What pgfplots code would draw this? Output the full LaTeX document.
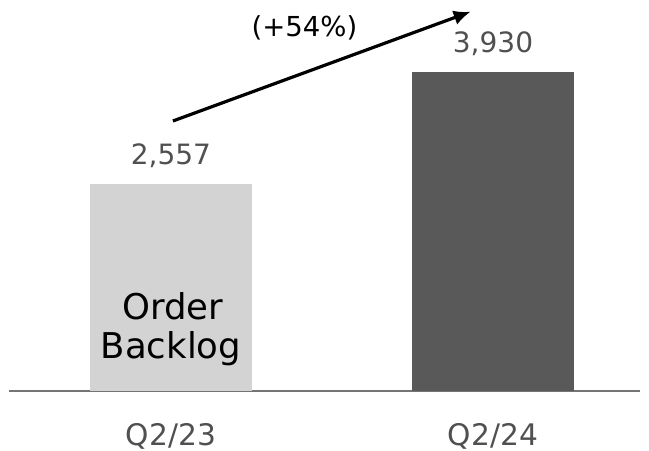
\documentclass[border=0pt]{standalone}
\usepackage{fontspec}
\setmainfont{DejaVu Sans}
\usepackage{pgfplots}
\pgfplotsset{compat=1.18}
\usetikzlibrary{arrows.meta}
\definecolor{lightbar}{HTML}{D3D3D3}
\definecolor{darkbar}{HTML}{595959}
\definecolor{axisgray}{HTML}{747474}
\definecolor{labelgray}{HTML}{505050}
\begin{document}
\begin{tikzpicture}
\begin{axis}[
  scale only axis,
  width=631bp, height=391bp,
  xmin=-0.503, xmax=1.4565,
  ymin=0, ymax=4821,
  axis y line=none,
  axis x line*=bottom,
  x axis line style={-, draw=axisgray, line width=2.5bp},
  xtick={0,1},
  xticklabels={Q2/23,Q2/24},
  major tick length=0pt,
  xticklabel style={anchor=base, yshift=-54bp, text=labelgray, font=\fontsize{29.7bp}{34bp}\selectfont, inner sep=0pt},
  ytick=\empty,
  clip=false,
  /pgf/number format/assume math mode=true,
  /pgf/number format/.cd, 1000 sep={,},
]
\addplot[ybar, bar width=0.503, fill=lightbar, draw=none,
  nodes near coords, nodes near coords style={anchor=base, inner sep=0pt, yshift=19.5bp, text=labelgray, font=\fontsize{28bp}{34bp}\selectfont}]
  coordinates {(0,2557)};
\addplot[ybar, bar width=0.503, fill=darkbar, draw=none,
  nodes near coords, nodes near coords style={anchor=base, inner sep=0pt, yshift=19.5bp, text=labelgray, font=\fontsize{28bp}{34bp}\selectfont}]
  coordinates {(1,3930)};
\draw[-{Latex[length=17bp,width=15bp]}, line width=3.2bp, black] (axis cs:0.006,3329) -- (axis cs:0.9307,4677);
\node[font=\fontsize{27.5bp}{34bp}\selectfont, text=black, anchor=base, inner sep=0pt] at (axis cs:0.4146,4377) {(+54\%)};
\node[font=\fontsize{35.5bp}{40bp}\selectfont, text=black, anchor=base, inner sep=0pt] at (axis cs:0.005,884) {Order};
\node[font=\fontsize{35.5bp}{40bp}\selectfont, text=black, anchor=base, inner sep=0pt] at (axis cs:0,395) {Backlog};
\coordinate (BL) at (rel axis cs:0,0);
\end{axis}
\pgfresetboundingbox
\path[use as bounding box] (BL) ++(-9bp,-60bp) rectangle ++(649bp,451bp);
\end{tikzpicture}
\end{document}
